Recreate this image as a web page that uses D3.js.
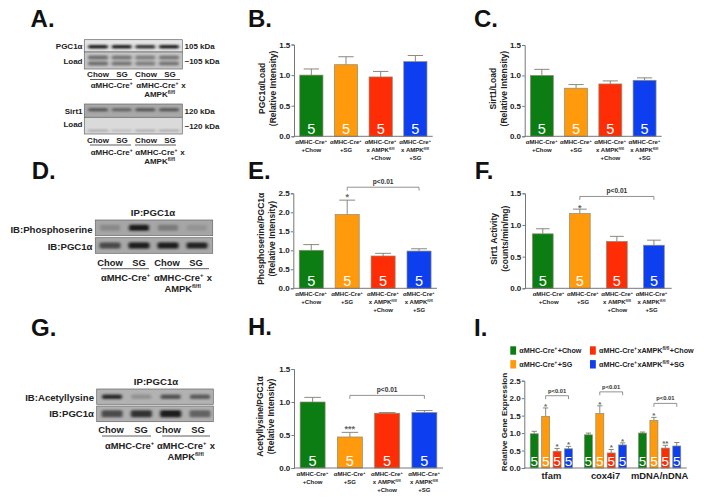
<!DOCTYPE html>
<html>
  <head>
    <meta charset="utf-8">
    <style>
      html, body { margin: 0; padding: 0; background: #fff; }
      svg { display: block; }
      text { font-family: "Liberation Sans", Arial, sans-serif; font-weight: bold; fill: #222; }
      .axis path, .axis line { stroke: #777; stroke-width: 1; }
      .axis text { font-size: 8px; font-family: "Liberation Sans", Arial, sans-serif; font-weight: bold; fill: #222; }
    </style>
    <script src="https://d3js.org/d3.v7.min.js"></script>
  </head>
  <body>
    <svg id="fig" width="704" height="500"></svg>
  </body>
</html>

<script>
  // groups
  var categories = ["Cre+Chow", "Cre+SG", "AMPK+Chow", "AMPK+SG"];
  var categoryLines = [
    ["αMHC-Cre^+", "+Chow"],
    ["αMHC-Cre^+", "+SG"],
    ["αMHC-Cre^+", "x AMPK^fl/fl", "+Chow"],
    ["αMHC-Cre^+", "x AMPK^fl/fl", "+SG"]
  ];
  var colors = ["#0b7d12", "#ff9a0c", "#ff2d05", "#0d3ff0"];
  var nLabel = "5";

  // bar heights and top of the error bars
  var pgcLoad = [1.0, 1.17, 0.97, 1.22];
  var pgcLoadErr = [1.10, 1.30, 1.06, 1.32];
  var sirtLoad = [1.0, 0.79, 0.86, 0.92];
  var sirtLoadErr = [1.10, 0.85, 0.91, 0.96];
  var phospho = [1.0, 1.94, 0.85, 0.98];
  var phosphoErr = [1.15, 2.32, 0.92, 1.04];
  var sirtActivity = [0.86, 1.18, 0.74, 0.68];
  var sirtActivityErr = [0.94, 1.25, 0.82, 0.76];
  var acetyl = [1.0, 0.47, 0.83, 0.84];
  var acetylErr = [1.07, 0.54, 0.84, 0.87];

  var genes = ["tfam", "cox4i7", "mDNA/nDNA"];
  var geneValues = [
    [0.98, 1.48, 0.48, 0.55],
    [0.95, 1.56, 0.43, 0.66],
    [1.0, 1.36, 0.57, 0.63]
  ];
  var geneErr = [
    [1.05, 1.72, 0.56, 0.62],
    [1.0, 1.78, 0.53, 0.72],
    [1.03, 1.45, 0.65, 0.73]
  ];
  var geneStars = [
    ["", "*", "*", "*"],
    ["", "*", "*", "*"],
    ["", "*", "**", ""]
  ];
  var geneBrackets = [2.07, 2.18, 1.85];
  var legendLabels = ["αMHC-Cre^++Chow", "αMHC-Cre^++SG", "αMHC-Cre^+xAMPK^fl/fl+Chow", "αMHC-Cre^+xAMPK^fl/fl+SG"];

  // blot band darkness per lane
  var pgcBands = [0.95, 0.95, 0.85, 0.95];
  var pgcLoadBands = [0.5, 0.45, 0.4, 0.45];
  var sirtBands = [0.6, 0.5, 0.6, 0.6];
  var sirtLoadBands = [0.3, 0.2, 0.3, 0.3];
  var phosphoBands = [0.2, 0.95, 0.3, 0.12];
  var ipPgcBands = [0.65, 0.95, 0.95, 0.9];
  var acetylBands = [0.85, 0.2, 0.6, 0.55];
  var ipPgc2Bands = [0.65, 0.8, 0.95, 0.5];

  var svg = d3.select("#fig");
  var defs = svg.append("defs");
  defs.append("filter").attr("id", "blur")
    .attr("x", "-30%").attr("y", "-100%").attr("width", "160%").attr("height", "300%")
    .append("feGaussianBlur").attr("stdDeviation", "1.6 1");

  // "abc^sup" -> text with raised parts
  function rich(g, str, x, y, size, anchor) {
    var t = g.append("text").attr("x", x).attr("y", y)
      .attr("font-size", size).attr("text-anchor", anchor || "middle");
    str.split(/(\^\+|\^fl\/fl)/).forEach(function(part) {
      if (!part) return;
      if (part[0] === "^") {
        t.append("tspan").attr("font-size", size * 0.62).attr("dy", -size * 0.35).text(part.slice(1));
        t.append("tspan").attr("dy", size * 0.35).text("\u200a");
      } else {
        t.append("tspan").text(part);
      }
    });
    return t;
  }

  function panelLetter(s, x, y) {
    svg.append("text").attr("x", x).attr("y", y).attr("font-size", 24).style("fill", "#111").text(s);
  }

  function yTitle(g, lines, x, y, size) {
    lines.forEach(function(l, i) {
      g.append("text")
        .attr("transform", "translate(" + (x + i * 11) + "," + y + ") rotate(-90)")
        .attr("text-anchor", "middle").attr("font-size", size).text(l);
    });
  }

  function bracket(g, x1, x2, y, label, size) {
    g.append("path")
      .attr("d", d3.line()([[x1, y + 3.4], [x1, y], [x2, y], [x2, y + 3.4]]))
      .attr("fill", "none").attr("stroke", "#777").attr("stroke-width", 0.8);
    g.append("text").attr("x", (x1 + x2) / 2).attr("y", y - 3.2)
      .attr("text-anchor", "middle").attr("font-size", size).style("fill", "#333").text(label);
  }

  function drawBars(g, x, y, keys, vals, errs, numSize) {
    var rows = keys.map(function(k, i) { return { k: k, i: i, v: vals[i], e: errs[i] }; });
    var capW = x.bandwidth() * 0.33;
    var e = g.selectAll(".err").data(rows).enter().append("g").attr("class", "err")
      .attr("stroke", "#7d7d70").attr("stroke-width", 0.9);
    e.append("line").attr("x1", function(d) { return x(d.k) + x.bandwidth() / 2; })
      .attr("x2", function(d) { return x(d.k) + x.bandwidth() / 2; })
      .attr("y1", function(d) { return y(d.v); }).attr("y2", function(d) { return y(d.e); });
    e.append("line").attr("x1", function(d) { return x(d.k) + x.bandwidth() / 2 - capW; })
      .attr("x2", function(d) { return x(d.k) + x.bandwidth() / 2 + capW; })
      .attr("y1", function(d) { return y(d.e); }).attr("y2", function(d) { return y(d.e); });

    g.selectAll(".bar").data(rows).enter().append("rect").attr("class", "bar")
      .attr("x", function(d) { return x(d.k); })
      .attr("y", function(d) { return y(d.v); })
      .attr("width", x.bandwidth())
      .attr("height", function(d) { return y(0) - y(d.v); })
      .attr("fill", function(d) { return colors[d.i]; })
      .attr("stroke", "#8b8b72").attr("stroke-width", 0.7);

    g.selectAll(".n").data(rows).enter().append("text").attr("class", "n")
      .attr("x", function(d) { return x(d.k) + x.bandwidth() / 2; })
      .attr("y", y(0) - 2.4)
      .attr("text-anchor", "middle")
      .attr("font-size", numSize)
      .style("font-weight", "normal").style("fill", "#fff")
      .text(nLabel);
  }

  function drawAxis(g, y, left, right, ticks, fmt) {
    g.append("g").attr("class", "axis").attr("transform", "translate(" + left + ",0)")
      .call(d3.axisLeft(y).tickValues(ticks).tickFormat(d3.format(fmt)).tickSize(2.5).tickPadding(1.2));
    g.append("line").attr("x1", left).attr("x2", right).attr("y1", y(0)).attr("y2", y(0))
      .attr("stroke", "#777").attr("stroke-width", 1);
  }

  // one of the four-bar panels
  function barPanel(cfg) {
    var g = svg.append("g");
    var y = d3.scaleLinear().domain([0, cfg.max]).range([cfg.bottom, cfg.top]);
    var x = d3.scaleBand().domain(categories).range([cfg.left, cfg.right])
      .paddingInner(cfg.pi).paddingOuter(cfg.po);
    drawBars(g, x, y, categories, cfg.vals, cfg.errs, 14.5);
    drawAxis(g, y, cfg.left, cfg.right, cfg.ticks, ".1f");
    yTitle(g, cfg.title, cfg.titleX, (cfg.top + cfg.bottom) / 2 - 2, 8.5);
    // tick labels do not always sit under the bars
    var labelX = cfg.labelRange
      ? d3.scalePoint().domain(categories).range(cfg.labelRange)
      : function(c) { return x(c) + x.bandwidth() / 2; };
    categories.forEach(function(c, i) {
      categoryLines[i].forEach(function(l, j) {
        rich(g, l, labelX(c), cfg.bottom + 7.6 + j * 8.1, 6);
      });
    });
    if (cfg.bracket) {
      var cx = function(i) { return x(categories[i]) + x.bandwidth() / 2; };
      bracket(g, cx(1), cx(3), y(cfg.bracket), "p<0.01", 6.6);
    }
    if (cfg.star) {
      g.append("text").attr("x", x(categories[1]) + x.bandwidth() / 2)
        .attr("y", y(cfg.errs[1]) + (cfg.starDy || 0)).attr("text-anchor", "middle")
        .attr("font-size", 9).style("fill", "#666").text(cfg.star);
    }
  }

  barPanel({ vals: pgcLoad, errs: pgcLoadErr, max: 1.5, ticks: [0, 0.5, 1, 1.5], top: 44.5, bottom: 136.3, left: 294, right: 432.7, pi: 0.33, po: 0.165, title: ["PGC1α/Load", "(Relative Intensity)"], titleX: 265 });
  barPanel({ vals: sirtLoad, errs: sirtLoadErr, max: 1.5, ticks: [0, 0.5, 1, 1.5], top: 45, bottom: 136.3, left: 524.7, right: 661.7, pi: 0.33, po: 0.165, title: ["Sirt1/Load", "(Relative Intensity)"], titleX: 496 });
  barPanel({ vals: phospho, errs: phosphoErr, max: 2.5, ticks: [0, 0.5, 1, 1.5, 2, 2.5], top: 193.3, bottom: 288.3, left: 293.3, right: 437, pi: 0.33, po: 0.165, title: ["Phosphoserine/PGC1α", "(Relative Intensity)"], titleX: 264, bracket: 2.66, star: "*" });
  barPanel({ vals: sirtActivity, errs: sirtActivityErr, max: 1.5, ticks: [0, 0.5, 1, 1.5], top: 193.3, bottom: 288.3, left: 525, right: 671.7, pi: 0.44, po: 0.2, title: ["Sirt1 Activity", "(counts/min/mg)"], titleX: 497, bracket: 1.45, star: "*", starDy: 1.5, labelRange: [548.7, 651.7] });
  barPanel({ vals: acetyl, errs: acetylErr, max: 1.5, ticks: [0, 0.5, 1, 1.5], top: 369, bottom: 468, left: 294, right: 443, pi: 0.33, po: 0.165, title: ["Acetyllysine/PGC1α", "(Relative Intensity)"], titleX: 263, bracket: 1.1, star: "***" });

  // panel I, grouped bars
  (function() {
    var g = svg.append("g");
    var left = 524.3, right = 686.7, top = 380.7, bottom = 468;
    var y = d3.scaleLinear().domain([0, 2.5]).range([bottom, top]);
    var x0 = d3.scaleBand().domain(genes).range([left, right]);
    var x1 = d3.scaleBand().domain(categories).range([0, x0.bandwidth()]).paddingInner(0.3).paddingOuter(0.52);
    genes.forEach(function(gene, gi) {
      var sub = g.append("g").attr("transform", "translate(" + x0(gene) + ",0)");
      drawBars(sub, x1, y, categories, geneValues[gi], geneErr[gi], 13.5);
      categories.forEach(function(c, i) {
        if (!geneStars[gi][i]) return;
        sub.append("text").attr("x", x1(c) + x1.bandwidth() / 2).attr("y", y(geneErr[gi][i]) + 0.8)
          .attr("text-anchor", "middle").attr("font-size", 8).style("fill", "#666").text(geneStars[gi][i]);
      });
      bracket(sub, x1(categories[1]) + x1.bandwidth() / 2, x1(categories[3]) + x1.bandwidth() / 2, y(geneBrackets[gi]), "p<0.01", 5.8);
      g.append("text").attr("x", x0(gene) + x0.bandwidth() / 2).attr("y", 478.5)
        .attr("text-anchor", "middle").attr("font-size", 9.4).text(gene);
    });
    drawAxis(g, y, left, right, [0, 0.5, 1, 1.5, 2, 2.5], ".1f");
    yTitle(g, ["Relative Gene Expression"], 507, 422, 8);

    // legend, filled column by column
    legendLabels.forEach(function(l, i) {
      var lx = i < 2 ? 510.3 : 590;
      var ly = i % 2 === 0 ? 350.5 : 364.3;
      g.append("rect").attr("x", lx).attr("y", ly - 4.2).attr("width", 5.8).attr("height", 8.4).attr("fill", colors[i]);
      rich(g, l, lx + 9, ly + 2.5, 7.2, "start");
    });
  })();

  // blot strip: grey box plus one blurred band per lane
  function blot(cfg) {
    var g = svg.append("g");
    g.append("rect").attr("x", cfg.x0).attr("y", cfg.y0).attr("width", cfg.x1 - cfg.x0).attr("height", cfg.y1 - cfg.y0)
      .attr("fill", cfg.bg).attr("stroke", "#666").attr("stroke-width", 0.7);
    var lane = d3.scalePoint().domain(d3.range(4)).range([cfg.l0, cfg.l1]);
    var shade = d3.scaleLinear().domain([0, 1]).range([cfg.bg, "#141414"]);
    var bands = g.append("g").attr("filter", "url(#blur)");
    cfg.bands.forEach(function(b, i) {
      (cfg.offsets || [0]).forEach(function(off) {
        bands.append("rect")
          .attr("x", lane(i) - cfg.w / 2)
          .attr("y", (cfg.y0 + cfg.y1) / 2 + off - cfg.h / 2)
          .attr("width", cfg.w).attr("height", cfg.h).attr("rx", 1.5)
          .attr("fill", shade(b));
      });
    });
  }

  function textAt(s, x, y, size, anchor) {
    return rich(svg, s, x, y, size, anchor);
  }

  function underline(x1, x2, y) {
    svg.append("line").attr("x1", x1).attr("x2", x2).attr("y1", y).attr("y2", y)
      .attr("stroke", "#333").attr("stroke-width", 0.8);
  }

  function blotCaption(xs, chowY, ruleY, capY, cap2Y, rules, size, capXs, capX2) {
    ["Chow", "SG", "Chow", "SG"].forEach(function(s, i) { textAt(s, xs[i], chowY, size); });
    underline(rules[0], rules[1], ruleY);
    underline(rules[2], rules[3], ruleY);
    textAt("αMHC-Cre^+", capXs[0], capY, size);
    textAt("αMHC-Cre^+ x", capXs[1], capY, size);
    textAt("AMPK^fl/fl", capX2, cap2Y, size);
  }

  // A
  panelLetter("A.", 30.6, 27);
  blot({ x0: 84.3, x1: 182.3, y0: 39.7, y1: 52, l0: 98, l1: 169, bands: pgcBands, bg: "#e4e4e4", w: 20, h: 3.5, offsets: [1] });
  blot({ x0: 84.3, x1: 182.3, y0: 52, y1: 69, l0: 98, l1: 169, bands: pgcLoadBands, bg: "#c6c6c6", w: 20, h: 4, offsets: [-3, 3] });
  blot({ x0: 84.3, x1: 182.3, y0: 104, y1: 117.3, l0: 98, l1: 169, bands: sirtBands, bg: "#a8a8a8", w: 20, h: 3, offsets: [-1] });
  blot({ x0: 84.3, x1: 182.3, y0: 117.3, y1: 134, l0: 98, l1: 169, bands: sirtLoadBands, bg: "#dadada", w: 21, h: 1.6, offsets: [5] });
  textAt("PGC1α", 82.5, 49, 8, "end");
  textAt("Load", 82.5, 63.5, 8, "end");
  textAt("105 kDa", 184.5, 49, 8, "start");
  textAt("~105 kDa", 184.5, 63.5, 8, "start");
  textAt("Sirt1", 82.5, 113.5, 8, "end");
  textAt("Load", 82.5, 126.5, 8, "end");
  textAt("120 kDa", 184.5, 113.5, 8, "start");
  textAt("~120 kDa", 184.5, 128.5, 8, "start");
  blotCaption([98, 122, 146, 170], 77, 79.5, 88, 97, [90, 132, 140, 180], 8, [112, 161], 160);
  blotCaption([98, 122, 146, 170], 142.5, 145, 155, 164, [90, 131, 135, 176], 8, [112, 160], 160);

  // D
  panelLetter("D.", 31.7, 179);
  blot({ x0: 95.3, x1: 212.7, y0: 220, y1: 235.7, l0: 110, l1: 197, bands: phosphoBands, bg: "#a6a6a6", w: 20, h: 6 });
  blot({ x0: 95.3, x1: 212.7, y0: 237.7, y1: 253.3, l0: 110, l1: 197, bands: ipPgcBands, bg: "#a8a8a8", w: 21, h: 6 });
  textAt("IP:PGC1α", 153, 215.5, 9.6);
  textAt("IB:Phosphoserine", 92.5, 232.5, 9.6, "end");
  textAt("IB:PGC1α", 92.5, 249.5, 9.6, "end");
  blotCaption([110, 139, 167, 196], 265.5, 268.7, 280.5, 291.5, [101, 149, 160, 209], 9.4, [126, 183], 183);

  // G
  panelLetter("G.", 31, 336);
  blot({ x0: 96.7, x1: 213.3, y0: 389, y1: 404.3, l0: 112, l1: 200, bands: acetylBands, bg: "#b2b2b2", w: 20, h: 4.5 });
  blot({ x0: 96.7, x1: 213.3, y0: 406, y1: 421.7, l0: 112, l1: 200, bands: ipPgc2Bands, bg: "#b0b0b0", w: 21, h: 7 });
  textAt("IP:PGC1α", 156, 384.5, 9.6);
  textAt("IB:Acetyllysine", 94, 401, 9.6, "end");
  textAt("IB:PGC1α", 94, 416.5, 9.6, "end");
  blotCaption([111, 141, 168, 198], 432.5, 436, 448.5, 459.5, [102, 151, 162, 210], 9.4, [130, 186], 186);

  panelLetter("B.", 248, 27);
  panelLetter("C.", 474, 27);
  panelLetter("E.", 248, 179);
  panelLetter("F.", 474.7, 179);
  panelLetter("H.", 248, 335);
  panelLetter("I.", 474, 336);
</script>
